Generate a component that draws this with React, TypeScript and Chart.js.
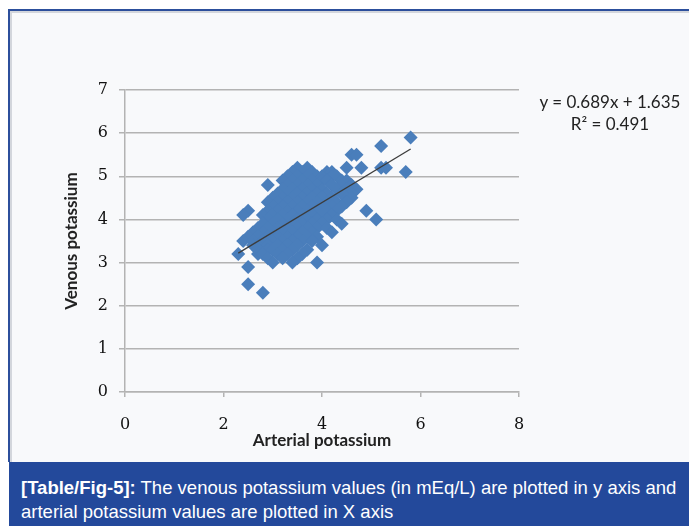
import React, { useEffect, useRef } from "react";
import { Chart, registerables } from "chart.js";

Chart.register(...registerables);

// Arterial potassium (x, mEq/L), grouped by venous level
const arterialK = [
  5.8, 5.2, 4.6, 4.7,
  3.5, 3.7, 4.5, 4.8, 5.2, 5.3,
  3.4, 3.6, 3.8, 4.1, 4.2, 5.7,
  3.3, 3.5, 3.7, 3.9, 4.0, 4.2, 4.3,
  3.2, 3.4, 3.6, 3.8, 4.0, 4.1, 4.4, 4.5,
  2.9, 3.3, 3.5, 3.7, 3.9, 4.2, 4.4, 4.6,
  3.2, 3.4, 3.6, 3.8, 4.0, 4.3, 4.5, 4.7,
  3.1, 3.3, 3.5, 3.7, 3.9, 4.1, 4.4, 4.6,
  3.0, 3.2, 3.4, 3.6, 3.8, 4.0, 4.2, 4.5, 4.6,
  2.9, 3.1, 3.3, 3.5, 3.7, 3.9, 4.1, 4.3, 4.5,
  3.0, 3.2, 3.4, 3.6, 3.8, 4.0, 4.2, 4.4,
  2.5, 2.9, 3.1, 3.3, 3.5, 3.7, 3.9, 4.1, 4.3, 4.9,
  2.4, 2.8, 3.0, 3.2, 3.4, 3.6, 3.8, 4.0, 4.2,
  2.9, 3.1, 3.3, 3.5, 3.7, 3.9, 4.1, 4.3, 5.1,
  2.8, 3.0, 3.2, 3.4, 3.6, 3.8, 4.0, 4.4,
  2.7, 2.9, 3.1, 3.3, 3.5, 3.7, 3.9, 4.1,
  2.6, 2.8, 3.0, 3.2, 3.4, 3.6, 3.8, 4.2,
  2.5, 2.7, 2.9, 3.1, 3.3, 3.5, 3.7, 3.9,
  2.4, 2.6, 2.8, 3.0, 3.2, 3.4, 3.6, 3.8,
  2.6, 2.7, 2.9, 3.1, 3.3, 3.5, 4.0,
  2.7, 2.9, 3.0, 3.2, 3.4, 3.7,
  2.3, 2.7, 2.8, 3.1, 3.3, 3.6,
  2.9, 3.2, 3.5,
  3.0, 3.4, 3.9,
  2.5, 2.5, 2.8,
];

// Venous potassium (y, mEq/L), same order as arterialK
const venousK = [
  5.9, 5.7, 5.5, 5.5,
  5.2, 5.2, 5.2, 5.2, 5.2, 5.2,
  5.1, 5.1, 5.1, 5.1, 5.1, 5.1,
  5.0, 5.0, 5.0, 5.0, 5.0, 5.0, 5.0,
  4.9, 4.9, 4.9, 4.9, 4.9, 4.9, 4.9, 4.9,
  4.8, 4.8, 4.8, 4.8, 4.8, 4.8, 4.8, 4.8,
  4.7, 4.7, 4.7, 4.7, 4.7, 4.7, 4.7, 4.7,
  4.6, 4.6, 4.6, 4.6, 4.6, 4.6, 4.6, 4.6,
  4.5, 4.5, 4.5, 4.5, 4.5, 4.5, 4.5, 4.5, 4.5,
  4.4, 4.4, 4.4, 4.4, 4.4, 4.4, 4.4, 4.4, 4.4,
  4.3, 4.3, 4.3, 4.3, 4.3, 4.3, 4.3, 4.3,
  4.2, 4.2, 4.2, 4.2, 4.2, 4.2, 4.2, 4.2, 4.2, 4.2,
  4.1, 4.1, 4.1, 4.1, 4.1, 4.1, 4.1, 4.1, 4.1,
  4.0, 4.0, 4.0, 4.0, 4.0, 4.0, 4.0, 4.0, 4.0,
  3.9, 3.9, 3.9, 3.9, 3.9, 3.9, 3.9, 3.9,
  3.8, 3.8, 3.8, 3.8, 3.8, 3.8, 3.8, 3.8,
  3.7, 3.7, 3.7, 3.7, 3.7, 3.7, 3.7, 3.7,
  3.6, 3.6, 3.6, 3.6, 3.6, 3.6, 3.6, 3.6,
  3.5, 3.5, 3.5, 3.5, 3.5, 3.5, 3.5, 3.5,
  3.4, 3.4, 3.4, 3.4, 3.4, 3.4, 3.4,
  3.3, 3.3, 3.3, 3.3, 3.3, 3.3,
  3.2, 3.2, 3.2, 3.2, 3.2, 3.2,
  3.1, 3.1, 3.1,
  3.0, 3.0, 3.0,
  2.9, 2.5, 2.3,
];

// Linear trend line shown on the chart
const trendSlope = 0.689;
const trendIntercept = 1.635;
const trendRange = [2.3, 5.8];

const xTicks = [0, 2, 4, 6, 8];
const yTicks = [0, 1, 2, 3, 4, 5, 6, 7];

const xTitle = "Arterial potassium";
const yTitle = "Venous potassium";
const equationLine = "y = 0.689x + 1.635";
const r2Line = "R² = 0.491";
const captionLabel = "[Table/Fig-5]:";
const captionText1 = " The venous potassium values (in mEq/L) are plotted in y axis and";
const captionText2 = "arterial potassium values are plotted in X axis";

const GRID = "#b3b3b3";
const TICK_FONT = { family: "'DejaVu Serif', serif", size: 16 };
const TITLE_FONT = { family: "Lato, 'Open Sans', sans-serif", size: 17, weight: "bold" as const };

export default function App() {
  const ref = useRef<HTMLCanvasElement>(null);

  useEffect(() => {
    const points = arterialK.map((x, i) => ({ x, y: venousK[i] }));
    const trend = trendRange.map((x) => ({ x, y: trendSlope * x + trendIntercept }));
    const chart = new Chart(ref.current!, {
      type: "scatter",
      data: {
        datasets: [
          {
            type: "line",
            data: trend,
            borderColor: "#3c3c3c",
            borderWidth: 1.3,
            pointRadius: 0,
            order: 0,
          } as any,
          {
            data: points,
            pointStyle: "rectRot",
            pointRadius: 7,
            backgroundColor: "#4a7ebb",
            borderColor: "#4a7ebb",
            borderWidth: 0,
            order: 1,
          },
        ],
      },
      options: {
        animation: false,
        responsive: false,
        maintainAspectRatio: false,
        layout: { padding: { left: 58, right: 170, top: 90, bottom: 10 } },
        plugins: { legend: { display: false }, tooltip: { enabled: false } },
        scales: {
          x: {
            type: "linear",
            min: 0,
            max: 8,
            afterBuildTicks: (s: any) => {
              s.ticks = xTicks.map((v) => ({ value: v }));
            },
            afterFit: (s: any) => {
              s.height = 60;
            },
            ticks: { color: "#111", font: TICK_FONT, padding: 18 },
            grid: { drawOnChartArea: false, tickLength: 5, color: GRID, lineWidth: 1.5 },
            border: { color: GRID, width: 1.5 },
            title: { display: true, text: xTitle, color: "#222", font: TITLE_FONT, padding: 1 },
          },
          y: {
            type: "linear",
            min: 0,
            max: 7,
            afterBuildTicks: (s: any) => {
              s.ticks = yTicks.map((v) => ({ value: v }));
            },
            afterFit: (s: any) => {
              s.width = 67;
            },
            ticks: { color: "#111", font: TICK_FONT, padding: 11 },
            grid: { tickLength: 6, color: GRID, lineWidth: 1.5 },
            border: { color: GRID, width: 1.5 },
            title: { display: true, text: yTitle, color: "#222", font: TITLE_FONT, padding: 3 },
          },
        },
      },
    });
    return () => chart.destroy();
  }, []);

  return (
    <div
      style={{
        position: "fixed",
        left: 0,
        top: 0,
        width: 689,
        height: 526,
        background: "#ffffff",
        overflow: "hidden",
      }}
    >
      <div
        style={{
          position: "absolute",
          left: 8,
          top: 9,
          width: 690,
          height: 453,
          boxSizing: "border-box",
          borderLeft: "2px solid #2c4f9c",
          borderTop: "2px solid #2c4f9c",
          background: "#f8f9fb",
          boxShadow: "inset 2px 2px 0 #d3d6dc",
        }}
      />
      <canvas
        ref={ref}
        width={689}
        height={462}
        style={{ position: "absolute", left: 0, top: 0, width: 689, height: 462 }}
      />
      <div
        style={{
          position: "absolute",
          left: 524,
          top: 91,
          width: 172,
          textAlign: "center",
          fontFamily: "Lato, 'Open Sans', sans-serif",
          fontSize: 17,
          lineHeight: "22px",
          color: "#222",
        }}
      >
        <div>{equationLine}</div>
        <div>{r2Line}</div>
      </div>
      <div
        style={{
          position: "absolute",
          left: 9,
          top: 462,
          width: 680,
          height: 64,
          background: "#23499b",
          color: "#ffffff",
          boxSizing: "border-box",
          paddingLeft: 12,
          paddingTop: 14,
          fontFamily: "'Liberation Sans', Arial, sans-serif",
          fontSize: 18.5,
          lineHeight: "24px",
          whiteSpace: "nowrap",
        }}
      >
        <span style={{ fontWeight: "bold" }}>{captionLabel}</span>
        {captionText1}
        <br />
        {captionText2}
      </div>
    </div>
  );
}
